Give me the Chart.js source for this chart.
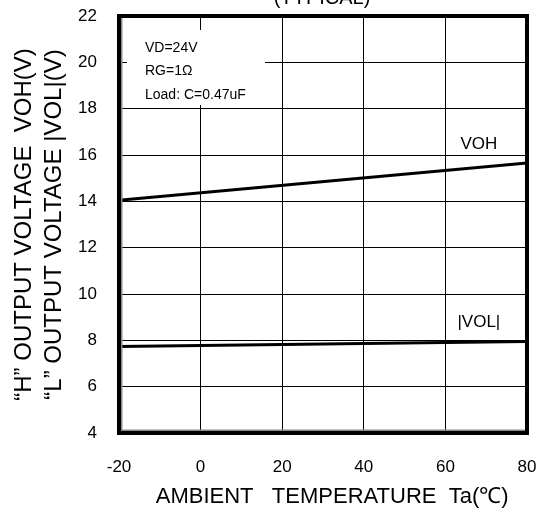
<!DOCTYPE html>
<html>
<head>
<meta charset="utf-8">
<script src="https://cdn.jsdelivr.net/npm/chart.js@4"></script>
<style>
  html, body { margin: 0; padding: 0; background: #fff; }
  #wrap { width: 539px; height: 514px; }
</style>
</head>
<body>
<div id="wrap"><canvas id="myChart" width="539" height="514"></canvas></div>
<script>
// values
var temps = [-20, 80];
var vohValues = [14.05, 15.65];
var volValues = [7.73, 7.95];
var conditionLines = ['VD=24V', 'RG=1\u03A9', 'Load: C=0.47uF'];

var labelFont = '"Liberation Sans", Arial, sans-serif';

// frame, note box and curve labels
var extras = {
    id: 'extras',
    beforeDatasetsDraw: function(chart) {
        var c = chart.ctx, a = chart.chartArea;
        c.save();
        // white box behind the conditions
        c.fillStyle = '#fff';
        c.fillRect(a.left + 8, 30, 138, 75);
        c.restore();
    },
    afterDatasetsDraw: function(chart) {
        var c = chart.ctx, a = chart.chartArea;
        var x = chart.scales.x, y = chart.scales.y;
        c.save();
        c.fillStyle = '#000';
        c.font = '14px ' + labelFont;
        c.textBaseline = 'middle';
        c.textAlign = 'left';
        conditionLines.forEach(function(t, i) {
            c.fillText(t, a.left + 26, 48 + i * 23.5);
        });
        c.font = '17px ' + labelFont;
        c.textAlign = 'center';
        c.fillText('VOH', x.getPixelForValue(68.2), y.getPixelForValue(16.47));
        c.fillText('|VOL|', x.getPixelForValue(68.2), y.getPixelForValue(8.79));
        // heavy frame
        c.strokeStyle = '#000';
        c.lineWidth = 4;
        c.strokeRect(a.left, a.top, a.right - a.left, a.bottom - a.top);
        c.strokeStyle = '#888';
        c.lineWidth = 1.5;
        c.beginPath();
        c.moveTo(a.left + 2.75, a.top + 2);
        c.lineTo(a.left + 2.75, a.bottom - 2.75);
        c.lineTo(a.right - 2, a.bottom - 2.75);
        c.stroke();
        // title cut off at the top
        c.fillStyle = '#000';
        c.font = '20px ' + labelFont;
        c.textBaseline = 'alphabetic';
        c.fillText('(TYPICAL)', 322, 4);
        c.restore();
    }
};

var ctx = document.getElementById('myChart').getContext('2d');
var myChart = new Chart(ctx, {
    type: 'line',
    data: {
        datasets: [{
            label: 'VOH',
            data: temps.map(function(t, i) { return { x: t, y: vohValues[i] }; }),
            borderColor: '#000',
            borderWidth: 3,
            pointRadius: 0
        }, {
            label: '|VOL|',
            data: temps.map(function(t, i) { return { x: t, y: volValues[i] }; }),
            borderColor: '#000',
            borderWidth: 3,
            pointRadius: 0
        }]
    },
    options: {
        responsive: false,
        animation: false,
        layout: { padding: { top: 16, right: 12, bottom: 4, left: 0 } },
        plugins: {
            legend: { display: false },
            tooltip: { enabled: false }
        },
        scales: {
            x: {
                type: 'linear',
                min: -20,
                max: 80,
                ticks: { stepSize: 20, color: '#000', padding: 24, font: { family: labelFont, size: 17 } },
                grid: { color: '#000', lineWidth: 1, drawTicks: false },
                border: { display: false },
                title: {
                    display: true,
                    text: '   AMBIENT   TEMPERATURE  Ta(\u2103)',
                    color: '#000',
                    font: { family: labelFont, size: 22 },
                    padding: { top: 6, bottom: 0 }
                },
                afterFit: function(scale) {
                    scale.height = 77;
                    scale.paddingLeft = 0;
                    scale.paddingRight = 0;
                }
            },
            y: {
                min: 4,
                max: 22,
                ticks: { stepSize: 2, color: '#000', padding: 22, font: { family: labelFont, size: 17 } },
                grid: { color: '#000', lineWidth: 1, drawTicks: false },
                border: { display: false },
                title: {
                    display: true,
                    text: ['\u201CH\u201D OUTPUT VOLTAGE  VOH(V)', '\u201CL\u201D OUTPUT VOLTAGE |VOL|(V)'],
                    color: '#000',
                    font: { family: labelFont, size: 24, lineHeight: 1.25 },
                    padding: { top: 9, bottom: 0 }
                },
                afterFit: function(scale) {
                    scale.width = 119;
                    scale.paddingTop = 0;
                    scale.paddingBottom = 0;
                }
            }
        }
    },
    plugins: [extras]
});
</script>
</body>
</html>
